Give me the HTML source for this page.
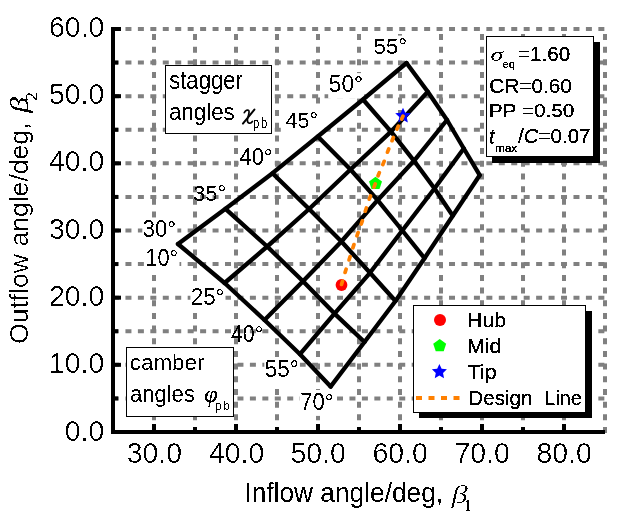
<!DOCTYPE html><html><head><meta charset="utf-8"><style>html,body{margin:0;padding:0;background:#fff;width:628px;height:521px;overflow:hidden}svg{display:block}</style></head><body>
<svg width="628" height="521" viewBox="0 0 628 521">
<rect width="628" height="521" fill="#fff"/>
<g stroke="#808080" stroke-width="4" fill="none">
<path d="M113 398.42H605" stroke-dasharray="6 6.445"/>
<path d="M113 364.83H605" stroke-dasharray="6 6.445"/>
<path d="M113 331.25H605" stroke-dasharray="6 6.445"/>
<path d="M113 297.67H605" stroke-dasharray="6 6.445"/>
<path d="M113 264.08H605" stroke-dasharray="6 6.445"/>
<path d="M113 230.50H605" stroke-dasharray="6 6.445"/>
<path d="M113 196.92H605" stroke-dasharray="6 6.445"/>
<path d="M113 163.33H605" stroke-dasharray="6 6.445"/>
<path d="M113 129.75H605" stroke-dasharray="6 6.445"/>
<path d="M113 96.16H605" stroke-dasharray="6 6.445"/>
<path d="M113 62.58H605" stroke-dasharray="6 6.445"/>
<path d="M113 29.00H605" stroke-dasharray="6 6.445"/>
<path d="M154.00 433V29" stroke-dasharray="6 6.677"/>
<path d="M195.00 433V29" stroke-dasharray="6 6.677"/>
<path d="M236.00 433V29" stroke-dasharray="6 6.677"/>
<path d="M277.00 433V29" stroke-dasharray="6 6.677"/>
<path d="M318.00 433V29" stroke-dasharray="6 6.677"/>
<path d="M359.00 433V29" stroke-dasharray="6 6.677"/>
<path d="M400.00 433V29" stroke-dasharray="6 6.677"/>
<path d="M441.00 433V29" stroke-dasharray="6 6.677"/>
<path d="M482.00 433V29" stroke-dasharray="6 6.677"/>
<path d="M523.00 433V29" stroke-dasharray="6 6.677"/>
<path d="M564.00 433V29" stroke-dasharray="6 6.677"/>
<path d="M605.00 433V29" stroke-dasharray="6 6.677"/>
</g>
<rect x="142.3" y="217.9" width="35.1" height="25.7" fill="#fff"/>
<rect x="238.6" y="146.0" width="35.1" height="25.6" fill="#fff"/>
<rect x="284.6" y="109.3" width="35.7" height="24.4" fill="#fff"/>
<rect x="328.2" y="73.1" width="35.9" height="25.5" fill="#fff"/>
<rect x="373.0" y="35.6" width="35.5" height="24.8" fill="#fff"/>
<rect x="145.5" y="247.3" width="34.0" height="25.4" fill="#fff"/>
<rect x="190.4" y="286.1" width="35.1" height="25.7" fill="#fff"/>
<rect x="264.3" y="358.3" width="35.5" height="25.4" fill="#fff"/>
<rect x="300.0" y="390.0" width="37.0" height="25.9" fill="#fff"/>
<g stroke="#000" stroke-width="4.3" fill="none" stroke-linejoin="round" stroke-linecap="round">
<polyline points="178,244 224.6,283 264.5,320 300,354.2 330.6,386.6"/>
<polyline points="225.5,208.8 267.2,246.5 303,281.3 334.5,313.6 364.5,342"/>
<polyline points="272.5,173.2 309.1,209 341.4,241.5 370,272.8 395.5,301"/>
<polyline points="317.8,136.5 350.5,169.5 377.6,200.2 402.3,230.5 424.5,258.2"/>
<polyline points="363,99.5 391,131.6 414,160.8 434.5,188.5 452.8,215.8"/>
<polyline points="406.5,63 427.8,91.8 447,120 463.8,148.5 479.7,175.2"/>
<polyline points="178,244 225.5,208.8 272.5,173.2 317.8,136.5 363,99.5 406.5,63"/>
<polyline points="224.6,283 267.2,246.5 309.1,209 350.5,169.5 391,131.6 427.8,91.8"/>
<polyline points="264.5,320 303,281.3 341.4,241.5 377.6,200.2 414,160.8 447,120"/>
<polyline points="300,354.2 334.5,313.6 370,272.8 402.3,230.5 434.5,188.5 463.8,148.5"/>
<polyline points="330.6,386.6 364.5,342 395.5,301 424.5,258.2 452.8,215.8 479.7,175.2"/>
</g>
<circle cx="341.5" cy="285" r="5.9" fill="#f00"/>
<polygon points="375.50,176.80 381.97,181.50 379.50,189.10 371.50,189.10 369.03,181.50" fill="#0f0"/>
<polygon points="403.00,107.70 405.29,112.74 410.80,113.37 406.71,117.11 407.82,122.53 403.00,119.80 398.18,122.53 399.29,117.11 395.20,113.37 400.71,112.74" fill="#00f"/>
<path d="M341.51 284.43L342.49 281.17M345.10 272.42L346.10 269.18M349.09 259.92L350.11 256.68M352.87 247.82L353.93 244.58M356.93 235.80L358.07 232.60M361.26 224.01L362.34 220.79M365.27 211.22L366.33 207.98M369.32 199.20L370.48 196.00M374.00 187.09L375.20 183.91M378.08 175.78L379.32 172.62M382.87 164.48L384.13 161.32M387.49 152.19L388.71 149.01M392.05 140.67L393.35 137.53M396.91 129.15L398.29 126.05M401.58 119.14L403.02 116.06" fill="none" stroke="#ff8000" stroke-width="3.7" stroke-linecap="round"/>
<rect x="111" y="28" width="4" height="406" fill="#000"/>
<rect x="111" y="430" width="494" height="4" fill="#000"/>
<rect x="111" y="430.00" width="10" height="4" fill="#000"/>
<rect x="111" y="362.83" width="10" height="4" fill="#000"/>
<rect x="111" y="295.67" width="10" height="4" fill="#000"/>
<rect x="111" y="228.50" width="10" height="4" fill="#000"/>
<rect x="111" y="161.33" width="10" height="4" fill="#000"/>
<rect x="111" y="94.16" width="10" height="4" fill="#000"/>
<rect x="111" y="27.00" width="10" height="4" fill="#000"/>
<rect x="111" y="396.42" width="7" height="4" fill="#000"/>
<rect x="111" y="329.25" width="7" height="4" fill="#000"/>
<rect x="111" y="262.08" width="7" height="4" fill="#000"/>
<rect x="111" y="194.92" width="7" height="4" fill="#000"/>
<rect x="111" y="127.75" width="7" height="4" fill="#000"/>
<rect x="111" y="60.58" width="7" height="4" fill="#000"/>
<rect x="152.00" y="424" width="4" height="10" fill="#000"/>
<rect x="234.00" y="424" width="4" height="10" fill="#000"/>
<rect x="316.00" y="424" width="4" height="10" fill="#000"/>
<rect x="398.00" y="424" width="4" height="10" fill="#000"/>
<rect x="480.00" y="424" width="4" height="10" fill="#000"/>
<rect x="562.00" y="424" width="4" height="10" fill="#000"/>
<rect x="193.00" y="427" width="4" height="7" fill="#000"/>
<rect x="275.00" y="427" width="4" height="7" fill="#000"/>
<rect x="357.00" y="427" width="4" height="7" fill="#000"/>
<rect x="439.00" y="427" width="4" height="7" fill="#000"/>
<rect x="521.00" y="427" width="4" height="7" fill="#000"/>
<rect x="165.5" y="65.5" width="106" height="68" fill="#fff" stroke="#000" stroke-width="1"/>
<rect x="126.5" y="347.5" width="107" height="69" fill="#fff" stroke="#000" stroke-width="1"/>
<rect x="492" y="42" width="108" height="121" fill="#000"/>
<rect x="486.5" y="36.5" width="107" height="120" fill="#fff" stroke="#000" stroke-width="1"/>
<rect x="419" y="311" width="173" height="107" fill="#000"/>
<rect x="413.5" y="305.5" width="172" height="107" fill="#fff" stroke="#000" stroke-width="1"/>
<path d="M254.4 109.6L242.9 123.6" stroke="#000" stroke-width="2" fill="none" stroke-linecap="round"/>
<path d="M244.3 112.7C245.6 110.4 247.6 109.3 248.8 110.6C250 112.4 247.4 117.5 247.4 120.3C247.4 123.6 250.6 124.3 252.4 121.5" stroke="#000" stroke-width="1.7" fill="none" stroke-linecap="round"/>
<circle cx="440" cy="320" r="6" fill="#f00"/>
<polygon points="439.70,339.00 446.17,343.70 443.70,351.30 435.70,351.30 433.23,343.70" fill="#0f0"/>
<polygon points="439.40,363.90 441.63,368.73 446.91,369.36 443.01,372.97 444.04,378.19 439.40,375.60 434.76,378.19 435.79,372.97 431.89,369.36 437.17,368.73" fill="#00f"/>
<path d="M416 398H460" stroke="#ff8000" stroke-width="4" stroke-dasharray="6 6.5"/>
<filter id="cr0" x="0" y="0" width="628" height="521" filterUnits="userSpaceOnUse"><feComponentTransfer><feFuncA type="discrete" tableValues="0 1"/></feComponentTransfer></filter>
<filter id="cr1" x="0" y="0" width="628" height="521" filterUnits="userSpaceOnUse"><feComponentTransfer><feFuncA type="discrete" tableValues="0 0 1"/></feComponentTransfer></filter>
<filter id="cr2" x="0" y="0" width="628" height="521" filterUnits="userSpaceOnUse"><feComponentTransfer><feFuncA type="discrete" tableValues="0 0 0 1"/></feComponentTransfer></filter>
<filter id="cr3" x="0" y="0" width="628" height="521" filterUnits="userSpaceOnUse"><feComponentTransfer><feFuncA type="discrete" tableValues="0 1 1 1"/></feComponentTransfer></filter>
<filter id="cr4" x="0" y="0" width="628" height="521" filterUnits="userSpaceOnUse"><feComponentTransfer><feFuncA type="discrete" tableValues="0 1 1"/></feComponentTransfer></filter>
<g filter="url(#cr0)">
<text transform="matrix(0.9812 0 0 1.0503 142.77 237.24)" font-family='"Liberation Sans",sans-serif' font-size="22.5">30°</text>
<text transform="matrix(0.9781 0 0 1.0098 193.01 200.50)" font-family='"Liberation Sans",sans-serif' font-size="22.5">35°</text>
<text transform="matrix(0.9737 0 0 1.0410 239.51 165.24)" font-family='"Liberation Sans",sans-serif' font-size="22.5">40°</text>
<text transform="matrix(0.9548 0 0 0.9598 285.53 127.51)" font-family='"Liberation Sans",sans-serif' font-size="22.5">45°</text>
<text transform="matrix(1.0111 0 0 1.0312 328.74 92.25)" font-family='"Liberation Sans",sans-serif' font-size="22.5">50°</text>
<text transform="matrix(0.9921 0 0 0.9971 373.51 54.26)" font-family='"Liberation Sans",sans-serif' font-size="22.5">55°</text>
<text transform="matrix(0.9677 0 0 1.0380 145.31 266.49)" font-family='"Liberation Sans",sans-serif' font-size="22.5">10°</text>
<text transform="matrix(0.9890 0 0 1.0503 190.76 305.49)" font-family='"Liberation Sans",sans-serif' font-size="22.5">25°</text>
<text transform="matrix(0.9457 0 0 1.0312 231.03 342.49)" font-family='"Liberation Sans",sans-serif' font-size="22.5">40°</text>
<text transform="matrix(1.0002 0 0 1.0380 264.75 377.49)" font-family='"Liberation Sans",sans-serif' font-size="22.5">55°</text>
<text transform="matrix(0.9779 0 0 1.0692 300.28 409.73)" font-family='"Liberation Sans",sans-serif' font-size="22.5">70°</text>
<text transform="matrix(0.9744 0 0 1.0140 244.36 501.62)" font-family='"Liberation Sans",sans-serif' font-size="27">Inflow angle/deg,</text>
<text transform="matrix(0.8693 0 0 1.1094 27.67 112.90) rotate(-90)" font-family='"Liberation Serif",serif' font-size="29" font-style="italic">β</text>
<text transform="matrix(1.0476 0 0 1.1321 37.00 101.01) rotate(-90)" font-family='"Liberation Serif",serif' font-size="16">2</text>
<text transform="matrix(0.9590 0 0 1.0977 169.23 88.80)" font-family='"Liberation Sans",sans-serif' font-size="23">stagger</text>
<text transform="matrix(0.9720 0 0 1.0216 168.88 120.06)" font-family='"Liberation Sans",sans-serif' font-size="23">angles</text>
<text transform="matrix(0.8134 0 0 0.9973 252.98 127.97)" font-family='"Liberation Sans",sans-serif' font-size="14" letter-spacing="2">pb</text>
<text transform="matrix(0.9761 0 0 0.9706 129.72 370.25)" font-family='"Liberation Sans",sans-serif' font-size="23">camber</text>
<text transform="matrix(0.9568 0 0 1.0049 129.99 401.92)" font-family='"Liberation Sans",sans-serif' font-size="23">angles</text>
<text transform="matrix(0.8443 0 0 0.9737 214.95 409.83)" font-family='"Liberation Sans",sans-serif' font-size="14" letter-spacing="2">pb</text>
<text transform="matrix(1.1679 0 0 0.8442 490.42 60.55)" font-family='"Liberation Serif",serif' font-size="22" font-style="italic">σ</text>
<text stroke="#000" stroke-width="0.25" transform="matrix(1.0350 0 0 1.0075 517.91 60.50)" font-family='"Liberation Sans",sans-serif' font-size="20">=1.60</text>
<text stroke="#000" stroke-width="0.25" transform="matrix(1.0412 0 0 0.9969 489.21 92.60)" font-family='"Liberation Sans",sans-serif' font-size="20">CR=0.60</text>
<text stroke="#000" stroke-width="0.25" transform="matrix(1.0388 0 0 0.9584 488.78 116.96)" font-family='"Liberation Sans",sans-serif' font-size="20" xml:space="preserve">PP =0.50</text>
<text transform="matrix(0.8281 0 0 1.1125 489.03 143.84)" font-family='"Liberation Sans",sans-serif' font-size="20" font-style="italic" font-weight="bold">t</text>
<text stroke="#000" stroke-width="0.25" transform="matrix(1.0274 0 0 0.9768 518.00 143.26)" font-family='"Liberation Sans",sans-serif' font-size="20">/<tspan font-style="italic">C</tspan>=0.07</text>
</g>
<g filter="url(#cr1)">
<text transform="matrix(1.0145 0 0 1.0733 49.08 36.88)" font-family='"Liberation Sans",sans-serif' font-size="28">60.0</text>
<text transform="matrix(1.0145 0 0 1.0733 64.75 440.58)" font-family='"Liberation Sans",sans-serif' font-size="28">0.0</text>
<text transform="matrix(1.0145 0 0 1.0733 49.03 373.21)" font-family='"Liberation Sans",sans-serif' font-size="28">10.0</text>
<text transform="matrix(1.0145 0 0 1.0733 49.03 306.08)" font-family='"Liberation Sans",sans-serif' font-size="28">20.0</text>
<text transform="matrix(1.0145 0 0 1.0733 49.03 238.70)" font-family='"Liberation Sans",sans-serif' font-size="28">30.0</text>
<text transform="matrix(1.0145 0 0 1.0733 49.03 171.34)" font-family='"Liberation Sans",sans-serif' font-size="28">40.0</text>
<text transform="matrix(1.0145 0 0 1.0733 49.03 103.95)" font-family='"Liberation Sans",sans-serif' font-size="28">50.0</text>
<text transform="matrix(1.0145 0 0 1.0733 126.68 462.53)" font-family='"Liberation Sans",sans-serif' font-size="28">30.0</text>
<text transform="matrix(1.0145 0 0 1.0733 208.93 462.53)" font-family='"Liberation Sans",sans-serif' font-size="28">40.0</text>
<text transform="matrix(1.0145 0 0 1.0733 290.55 462.53)" font-family='"Liberation Sans",sans-serif' font-size="28">50.0</text>
<text transform="matrix(1.0145 0 0 1.0733 372.55 462.53)" font-family='"Liberation Sans",sans-serif' font-size="28">60.0</text>
<text transform="matrix(1.0145 0 0 1.0733 454.55 462.53)" font-family='"Liberation Sans",sans-serif' font-size="28">70.0</text>
<text transform="matrix(1.0145 0 0 1.0733 536.55 462.53)" font-family='"Liberation Sans",sans-serif' font-size="28">80.0</text>
<text transform="matrix(0.9542 0 0 0.9844 27.75 344.03) rotate(-90)" font-family='"Liberation Sans",sans-serif' font-size="27">Outflow angle/deg,</text>
</g>
<g filter="url(#cr2)">
<text transform="matrix(1.1373 0 0 0.8954 451.46 502.50)" font-family='"Liberation Serif",serif' font-size="29" font-style="italic">β</text>
</g>
<g filter="url(#cr3)">
<text transform="matrix(0.6763 0 0 1.0053 465.13 510.75)" font-family='"Liberation Serif",serif' font-size="16">1</text>
<text transform="matrix(0.9213 0 0 0.9676 502.54 68.16)" font-family='"Liberation Sans",sans-serif' font-size="12">eq</text>
<text transform="matrix(0.9818 0 0 0.9742 494.91 151.78)" font-family='"Liberation Sans",sans-serif' font-size="12">max</text>
</g>
<g filter="url(#cr4)">
<text transform="matrix(1.0092 0 0 0.9538 204.24 401.73)" font-family='"Liberation Serif",serif' font-size="24" font-style="italic">φ</text>
<text transform="matrix(1.0648 0 0 1.0038 467.09 326.50)" font-family='"Liberation Sans",sans-serif' font-size="20">Hub</text>
<text transform="matrix(1.0668 0 0 1.0038 467.08 352.75)" font-family='"Liberation Sans",sans-serif' font-size="20">Mid</text>
<text transform="matrix(1.0777 0 0 1.0000 467.66 378.70)" font-family='"Liberation Sans",sans-serif' font-size="20">Tip</text>
<text transform="matrix(1.0304 0 0 1.0270 468.30 405.14)" font-family='"Liberation Sans",sans-serif' font-size="20">Design</text>
<text transform="matrix(0.9929 0 0 0.9831 544.36 404.50)" font-family='"Liberation Sans",sans-serif' font-size="20">Line</text>
</g>
</svg></body></html>
